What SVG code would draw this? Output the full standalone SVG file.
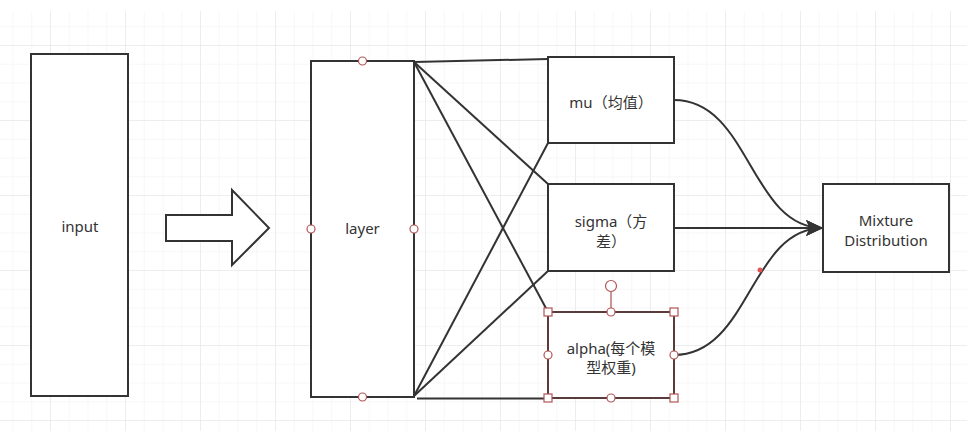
<svg xmlns="http://www.w3.org/2000/svg" width="967" height="431" viewBox="0 0 967 431">
  <defs>
    <pattern id="minor" x="12.5" y="7.5" width="18.75" height="18.75" patternUnits="userSpaceOnUse">
      <path d="M0,0 V18.75 M0,0 H18.75" fill="none" stroke="#efefef" stroke-width="1"/>
    </pattern>
    <pattern id="major" x="50" y="45" width="75" height="75" patternUnits="userSpaceOnUse">
      <path d="M0,0 V75 M0,0 H75" fill="none" stroke="#e3e3e3" stroke-width="1"/>
    </pattern>
    <marker id="arrow" markerUnits="userSpaceOnUse" markerWidth="20" markerHeight="20" refX="17" refY="8" orient="auto">
      <path d="M17,8 L0,0 L4,8 L0,16 Z" fill="#333"/>
    </marker>
  </defs>
  <style>
    .box { fill: #fff; stroke: #333; stroke-width: 2; }
    .lbl { font-family: "Noto Sans", "Noto Sans CJK SC", sans-serif; font-size: 15px; fill: #333; text-anchor: middle; }
    .edge { fill: none; stroke: #333; stroke-width: 2; }
    .pt { fill: #fff; stroke: #b05555; stroke-width: 1.2; }
  </style>
  <rect width="967" height="431" fill="#fff"/>
  <rect x="0" y="11" width="967" height="420" fill="url(#minor)"/>
  <rect x="0" y="11" width="967" height="420" fill="url(#major)"/>

  <g id="connectors">
    <path class="edge" d="M414,62 L548,59"/>
    <path class="edge" d="M414,62 L548,184"/>
    <path class="edge" d="M414,62 L548,312"/>
    <path class="edge" d="M414,396 L548,143"/>
    <path class="edge" d="M414,396 L548,271"/>
    <path class="edge" d="M417,398.5 L548,398.5"/>
    <path class="edge" d="M674,100 C750,100 750,228 823,228" marker-end="url(#arrow)"/>
    <path class="edge" d="M674,228 L823,228" marker-end="url(#arrow)"/>
    <path class="edge" d="M674,355 C750,355 750,228 823,228" marker-end="url(#arrow)"/>
    <circle cx="760" cy="270" r="2.5" fill="#e05555"/>
  </g>

  <g id="input">
    <rect class="box" x="31" y="54" width="97" height="342"/>
    <text class="lbl" x="80" y="232">input</text>
  </g>

  <g id="big-arrow">
    <path d="M166,215 L232,215 L232,190 L269,228 L232,265 L232,241 L166,241 Z" fill="#fff" stroke="#333" stroke-width="2" stroke-linejoin="miter"/>
  </g>

  <g id="layer">
    <rect class="box" x="311" y="61" width="103" height="336"/>
    <text class="lbl" x="362.5" y="234">layer</text>
    <circle class="pt" cx="362.5" cy="61" r="4"/>
    <circle class="pt" cx="362.5" cy="397" r="4"/>
    <circle class="pt" cx="311" cy="229" r="4"/>
    <circle class="pt" cx="414" cy="229" r="4"/>
  </g>

  <g id="mu">
    <rect class="box" x="548" y="57" width="126" height="86"/>
    <text class="lbl" x="611" y="108">mu（均值）</text>
  </g>

  <g id="sigma">
    <rect class="box" x="548" y="184" width="126" height="87"/>
    <text class="lbl" x="611" y="227">sigma（方</text>
    <text class="lbl" x="611" y="247">差）</text>
  </g>

  <g id="alpha">
    <rect x="548" y="312" width="126" height="86" fill="#fff" stroke="#5a3b3b" stroke-width="2"/>
    <text class="lbl" x="611" y="354">alpha(每个模</text>
    <text class="lbl" x="611" y="373">型权重)</text>
    <line x1="611" y1="291" x2="611" y2="308" stroke="#a85050" stroke-width="1.2"/>
    <circle class="pt" cx="611" cy="286" r="5.5"/>
    <rect class="pt" x="544" y="308" width="8" height="8"/>
    <rect class="pt" x="670" y="308" width="8" height="8"/>
    <rect class="pt" x="544" y="394" width="8" height="8"/>
    <rect class="pt" x="670" y="394" width="8" height="8"/>
    <circle class="pt" cx="611" cy="312" r="4"/>
    <circle class="pt" cx="611" cy="398" r="4"/>
    <circle class="pt" cx="548" cy="355" r="4"/>
    <circle class="pt" cx="674" cy="355" r="4"/>
  </g>

  <g id="mixture">
    <rect class="box" x="823" y="184" width="126" height="88"/>
    <text class="lbl" x="886" y="226">Mixture</text>
    <text class="lbl" x="886" y="246">Distribution</text>
  </g>
</svg>
